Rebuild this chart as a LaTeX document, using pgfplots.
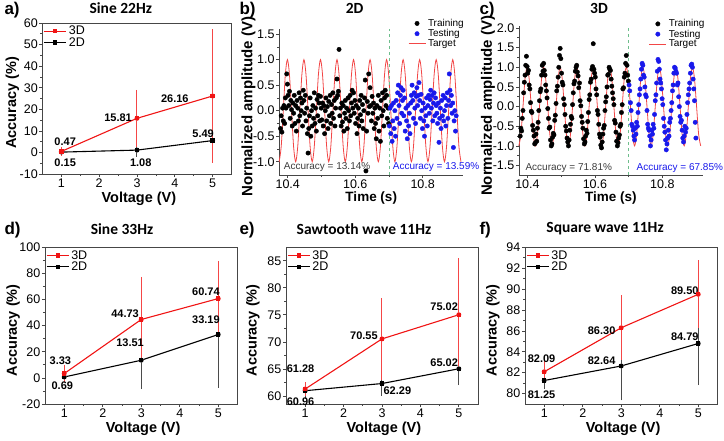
\documentclass[border=0pt]{standalone}
\usepackage{pgfplots}
\usepackage{pgfplotstable}
\pgfplotsset{compat=1.18}
\usepackage{fontspec}
\setmainfont{Liberation Sans}
\newfontfamily\titlefont{Carlito}
\definecolor{red3d}{RGB}{240,20,20}
\definecolor{red3derr}{RGB}{245,70,70}
\definecolor{err2d}{RGB}{75,75,75}
\definecolor{axgray}{RGB}{70,70,70}
\definecolor{tblue}{RGB}{25,25,235}
\definecolor{tred}{RGB}{242,70,70}
\definecolor{dgreen}{RGB}{110,190,140}
\definecolor{acctext}{RGB}{60,60,60}

\pgfplotstableread{
t y
10.3745 -1
10.3806 -0.707
10.3868 0
10.3929 0.707
10.3990 1
10.4051 0.707
10.4113 0
10.4174 -0.707
10.4235 -1
10.4296 -0.707
10.4358 0
10.4419 0.707
10.4480 1
10.4541 0.707
10.4603 0
10.4664 -0.707
10.4725 -1
10.4786 -0.707
10.4848 0
10.4909 0.707
10.4970 1
10.5031 0.707
10.5093 0
10.5154 -0.707
10.5215 -1
10.5276 -0.707
10.5338 0
10.5399 0.707
10.5460 1
10.5521 0.707
10.5583 0
10.5644 -0.707
10.5705 -1
10.5766 -0.707
10.5828 0
10.5889 0.707
10.5950 1
10.6011 0.707
10.6073 0
10.6134 -0.707
10.6195 -1
10.6256 -0.707
10.6318 0
10.6379 0.707
10.6440 1
10.6501 0.707
10.6563 0
10.6624 -0.707
10.6685 -1
10.6746 -0.707
10.6808 0
10.6869 0.707
10.6930 1
10.6991 0.707
10.7053 0
10.7114 -0.707
10.7175 -1
10.7236 -0.707
10.7298 0
10.7359 0.707
10.7420 1
10.7481 0.707
10.7543 0
10.7604 -0.707
10.7665 -1
10.7726 -0.707
10.7788 0
10.7849 0.707
10.7910 1
10.7971 0.707
10.8033 0
10.8094 -0.707
10.8155 -1
10.8216 -0.707
10.8278 0
10.8339 0.707
10.8400 1
10.8461 0.707
10.8523 0
10.8584 -0.707
10.8645 -1
10.8706 -0.707
10.8768 0
10.8829 0.707
10.8890 1
10.8951 0.707
10.9013 0
10.9074 -0.707
10.9135 -1
}\target

\pgfplotstableread{
t b c
10.3786 -0.35 -0.75
10.3806 -0.10 -0.55
10.3827 -0.42 -0.62
10.3847 0.05 -0.30
10.3868 -0.20 -0.10
10.3888 0.10 0.35
10.3908 -0.25 0.62
10.3929 0.25 0.80
10.3949 0.05 1.05
10.3970 0.72 1.28
10.3990 0.52 1.02
10.4010 0.30 0.85
10.4031 0.10 0.92
10.4051 0.38 0.55
10.4072 -0.15 0.45
10.4092 0.20 0.10
10.4113 0.02 -0.12
10.4133 -0.30 -0.15
10.4153 0.15 -0.48
10.4174 -0.05 -0.60
10.4194 0.30 -0.75
10.4215 -0.25 -0.95
10.4235 0.10 -0.92
10.4255 -0.40 -0.70
10.4276 0.20 -0.88
10.4296 0.05 -0.55
10.4317 -0.20 -0.40
10.4337 0.35 -0.10
10.4358 -0.10 0.15
10.4378 0.25 0.38
10.4398 0.00 0.45
10.4419 0.15 0.80
10.4439 -0.30 1.05
10.4460 0.40 0.90
10.4480 0.20 1.10
10.4500 -0.05 0.92
10.4521 0.30 0.80
10.4541 -0.20 0.55
10.4562 0.05 0.40
10.4582 -0.45 0.22
10.4603 -0.83 -0.05
10.4623 -0.35 -0.30
10.4643 -0.10 -0.55
10.4664 0.25 -0.52
10.4684 -0.50 -0.85
10.4705 0.00 -1.00
10.4725 -0.30 -0.95
10.4745 0.10 -0.78
10.4766 -0.15 -0.68
10.4786 0.35 -0.72
10.4807 -0.25 -0.35
10.4827 0.05 -0.22
10.4848 -0.40 0.08
10.4868 0.22 0.40
10.4888 -0.10 0.52
10.4909 0.30 0.75
10.4929 0.15 1.00
10.4950 -0.20 1.30
10.4970 0.28 1.48
10.4990 0.05 1.22
10.5011 -0.18 0.85
10.5031 0.15 0.62
10.5052 -0.30 0.55
10.5072 0.10 0.20
10.5093 -0.45 0.05
10.5113 0.00 -0.20
10.5133 0.25 -0.50
10.5154 -0.20 -0.62
10.5174 0.08 -0.80
10.5195 -0.35 -0.90
10.5215 0.18 -1.00
10.5235 -0.10 -0.85
10.5256 0.30 -0.60
10.5276 -0.25 -0.45
10.5297 0.12 -0.25
10.5317 -0.05 -0.30
10.5338 0.35 0.05
10.5358 -0.15 0.35
10.5378 0.20 0.58
10.5399 -0.30 0.65
10.5419 0.05 0.90
10.5440 0.25 1.00
10.5460 0.62 1.05
10.5480 0.30 0.88
10.5501 0.38 0.78
10.5521 1.20 0.48
10.5542 -0.10 0.60
10.5562 0.05 0.15
10.5583 -0.30 0.02
10.5603 0.15 -0.25
10.5623 -0.22 -0.40
10.5644 0.10 -0.55
10.5664 -0.40 -0.82
10.5685 -0.05 -0.95
10.5705 0.20 -0.90
10.5725 -0.15 -0.75
10.5746 0.05 -0.60
10.5766 -0.35 -0.68
10.5787 0.25 -0.38
10.5807 0.00 -0.15
10.5828 -0.20 0.18
10.5848 0.30 0.30
10.5868 -0.10 0.62
10.5889 0.15 0.70
10.5909 0.40 0.95
10.5930 0.05 1.02
10.5950 0.35 1.60
10.5970 -0.05 0.95
10.5991 0.20 0.85
10.6011 -0.25 0.75
10.6032 0.10 0.45
10.6052 -0.45 0.30
10.6073 -0.15 -0.10
10.6093 0.05 -0.20
10.6113 -0.30 -0.45
10.6134 0.20 -0.70
10.6154 -0.08 -0.78
10.6175 0.30 -0.98
10.6195 -0.20 -1.05
10.6215 0.12 -0.90
10.6236 -0.35 -0.70
10.6256 0.00 -0.55
10.6277 0.25 -0.48
10.6297 0.60 -0.10
10.6318 -1.18 0.12
10.6338 -0.40 0.25
10.6358 0.18 0.50
10.6379 -0.05 0.80
10.6399 0.72 0.82
10.6420 0.08 1.00
10.6440 0.45 0.95
10.6460 0.10 0.92
10.6481 -0.20 0.70
10.6501 0.28 0.52
10.6522 -0.05 0.35
10.6542 0.15 0.20
10.6563 -0.35 0.05
10.6583 0.05 -0.35
10.6603 -0.25 -0.42
10.6624 -0.55 -0.65
10.6644 0.10 -0.88
10.6665 -0.15 -1.00
10.6685 0.30 -0.92
10.6705 -0.40 -0.80
10.6726 0.05 -0.72
10.6746 -0.60 -0.50
10.6767 0.20 -0.45
10.6787 -0.10 -0.15
10.6808 0.35 0.05
10.6828 0.00 0.45
10.6848 -0.30 0.48
10.6869 0.25 0.75
10.6889 0.40 0.85
10.6910 0.10 1.10
10.6930 0.30 1.30
10.6950 -0.15 1.05
10.6971 0.05 0.80
10.6991 -0.25 0.65
}\train

\pgfplotstableread{
t b c
10.7012 -0.30 0.55
10.7032 0.05 0.40
10.7053 -0.45 0.10
10.7073 0.10 -0.10
10.7093 -0.60 -0.45
10.7114 -0.20 -0.50
10.7134 0.15 -0.60
10.7155 -0.35 -0.75
10.7175 0.00 -0.85
10.7195 -0.50 -0.55
10.7216 0.20 -0.70
10.7236 -0.15 -0.40
10.7257 0.35 -0.50
10.7277 0.50 -0.15
10.7298 0.10 0.05
10.7318 -0.25 0.30
10.7338 0.30 0.45
10.7359 0.45 0.70
10.7379 -0.05 0.95
10.7400 0.20 1.10
10.7420 0.40 1.05
10.7440 -0.10 0.80
10.7461 0.25 0.75
10.7481 -0.40 0.50
10.7502 0.05 0.30
10.7522 -0.20 0.25
10.7543 -0.55 -0.10
10.7563 0.10 -0.45
10.7583 -0.30 -0.55
10.7604 -0.05 -0.60
10.7624 -0.45 -0.75
10.7645 0.15 -1.00
10.7665 0.30 -0.85
10.7685 0.50 -0.60
10.7706 0.20 -0.70
10.7726 -0.15 -0.45
10.7747 0.35 -0.55
10.7767 0.05 -0.20
10.7788 -0.25 0.15
10.7808 0.28 0.30
10.7828 0.45 0.60
10.7849 0.10 0.90
10.7869 0.30 1.20
10.7890 0.55 1.15
10.7910 0.20 0.95
10.7930 -0.15 0.70
10.7951 0.32 0.60
10.7971 0.00 0.45
10.7992 -0.35 0.20
10.8012 0.15 0.05
10.8033 -0.20 -0.30
10.8053 -0.50 -0.50
10.8073 0.05 -0.65
10.8094 -0.10 -0.85
10.8114 0.25 -1.10
10.8135 -0.30 -0.95
10.8155 0.10 -0.80
10.8175 0.30 -0.60
10.8196 -0.05 -0.75
10.8216 0.22 -0.40
10.8237 0.40 -0.30
10.8257 0.05 -0.10
10.8278 0.30 0.10
10.8298 -0.20 0.40
10.8318 0.15 0.55
10.8339 0.35 0.85
10.8359 -0.10 1.00
10.8380 0.25 0.98
10.8400 0.10 0.90
10.8420 -0.05 0.85
10.8441 -0.25 0.55
10.8461 0.15 0.60
10.8482 -0.62 0.25
10.8502 -0.15 0.00
10.8523 0.05 -0.25
10.8543 -0.35 -0.40
10.8563 0.20 -0.35
10.8584 -0.10 -0.60
10.8604 0.30 -0.80
10.8625 -0.20 -0.90
10.8645 0.00 -0.75
10.8665 0.25 -0.50
10.8686 -0.30 -0.65
10.8706 0.10 -0.55
10.8727 0.35 -0.20
10.8747 -0.15 0.10
10.8768 0.20 0.30
10.8788 0.72 0.45
10.8808 0.40 0.60
10.8829 0.10 0.85
10.8849 0.30 1.05
10.8870 -0.05 1.08
10.8890 0.15 1.00
10.8910 -0.72 0.70
10.8931 -0.20 0.45
10.8951 0.00 0.15
10.8972 -0.40 -0.40
10.8992 -0.10 -0.80
}\test

\tikzset{
  ann/.style={font=\fontsize{11}{12}\selectfont\bfseries},
  acct/.style={anchor=west, font=\fontsize{10}{12}\selectfont},
  plab/.style={anchor=west, font=\fontsize{17}{19}\selectfont\bfseries},
}
\pgfplotsset{
  common/.style={
    scale only axis,
    tick align=outside,
    minor x tick num=1, minor y tick num=1,
    axis line style={draw=axgray, line width=0.7pt},
    every tick/.style={axgray, line width=0.7pt},
    major tick length=3pt, minor tick length=2pt,
    tick label style={font=\fontsize{12.5}{14}\selectfont},
    xticklabel style={inner sep=1.5pt},
    yticklabel style={inner sep=1.5pt},
    title style={font=\titlefont\bfseries\fontsize{15.5}{17}\selectfont, anchor=center},
    xlabel style={anchor=center},
    ylabel style={anchor=center},
    clip=false,
  },
  acc/.style={
    common,
    xmin=0.5, xmax=5.5, xtick={1,2,3,4,5}, xticklabels={1,2,3,4,5},
    tick pos=left,
    xlabel={Voltage (V)}, ylabel={Accuracy (\%)},
    label style={font=\fontsize{14.5}{16}\selectfont\bfseries},
    legend style={at={(0,1)}, anchor=north west, draw=none, fill=none,
      font=\fontsize{12.5}{14}\selectfont, row sep=-3pt, inner sep=1pt},
    legend cell align=left,
    legend image code/.code={\draw[mark repeat=2,mark phase=2,##1] plot coordinates {(0pt,0pt) (11pt,0pt) (22pt,0pt)};},
  },
  tp/.style={
    common,
    axis lines*=left,
    xmin=10.375, xmax=10.92, xtick={10.4,10.6,10.8}, xticklabels={10.4,10.6,10.8},
    xlabel={Time (s)}, ylabel={Normalized amplitude (V)},
    xlabel style={font=\fontsize{13.5}{15}\selectfont\bfseries},
    ylabel style={font=\fontsize{15}{17}\selectfont\bfseries},
    legend style={draw=none, fill=none, font=\fontsize{10}{11}\selectfont, row sep=-2.5pt, inner sep=1pt},
    legend cell align=left,
  },
  s3d/.style={red3d, line width=1.1pt, mark=square*, mark size=1.6pt},
  s2d/.style={black, line width=1.1pt, mark=square*, mark size=1.6pt},
  e3d/.style={forget plot, color=red3derr, draw=red3derr, line width=1pt, only marks, mark=none,
    error bars/.cd, y dir=both, y explicit,
    error bar style={draw=red3derr, line width=1pt},
    error mark options={draw=red3derr, line width=1pt, mark size=3pt}},
  e2d/.style={forget plot, color=err2d, draw=err2d, line width=1pt, only marks, mark=none,
    error bars/.cd, y dir=both, y explicit,
    error bar style={draw=err2d, line width=1pt},
    error mark options={draw=err2d, line width=1pt, mark size=3pt}},
  ptr/.style={only marks, mark=*, mark size=2.2pt, black},
  pte/.style={only marks, mark=*, mark size=2.2pt, tblue},
}

\begin{document}
\begin{tikzpicture}
\useasboundingbox (0pt,0pt) rectangle (724pt,-440pt);

% panel labels
\node[plab] at (1pt,-10pt) {a)};
\node[plab] at (236pt,-10pt) {b)};
\node[plab] at (476pt,-10pt) {c)};
\node[plab] at (1pt,-230pt) {d)};
\node[plab] at (236pt,-230pt) {e)};
\node[plab] at (476pt,-230pt) {f)};

% ---------------- a ----------------
\begin{axis}[acc, at={(42.5pt,-23pt)}, anchor=north west, width=189pt, height=151pt,
  ymin=-10, ymax=60, ytick={-10,0,10,20,30,40,50,60}, yticklabels={-10,0,10,20,30,40,50,60},
  ylabel style={at={(axis description cs:-0.16,0.47)}},
  xlabel style={at={(axis description cs:0.51,-0.165)}},
  title={Sine 22Hz}, title style={at={(axis description cs:0.414,1.06)}}]
\addlegendimage{s3d}\addlegendentry{3D}
\addlegendimage{s2d}\addlegendentry{2D}
\addplot[e2d] coordinates {(1,0.15) +- (0,0.4) (3,1.08) +- (0,1.6) (5,5.49) +- (0,6)};
\addplot[e3d] coordinates {(1,0.47) +- (0,0.6) (3,15.81) +- (0,11.8) (5,26.16) +- (0,29.5)};
\addplot[s2d, forget plot] coordinates {(1,0.15) (3,1.08) (5,5.49)};
\addplot[s3d, forget plot] coordinates {(1,0.47) (3,15.81) (5,26.16)};
\node[ann] at (axis cs:1.1,5.0) {0.47};
\node[ann] at (axis cs:1.1,-4.9) {0.15};
\node[ann] at (axis cs:2.5,16.2) {15.81};
\node[ann] at (axis cs:3.1,-4.9) {1.08};
\node[ann] at (axis cs:4.0,24.9) {26.16};
\node[ann] at (axis cs:4.75,8.6) {5.49};
\end{axis}

% ---------------- b ----------------
\begin{axis}[tp, at={(279.3pt,-29pt)}, anchor=north west, width=183.9pt, height=146pt,
  ymin=-1.26, ymax=1.6, ytick={-1,-0.5,0,0.5,1,1.5}, yticklabels={-1.0,-0.5,0.0,0.5,1.0,1.5},
  ylabel style={at={(axis description cs:-0.168,0.469)}},
  xlabel style={at={(axis description cs:0.5,-0.158)}},
  title={2D}, title style={at={(axis description cs:0.41,1.1)}},
  legend style={at={(axis description cs:0.694,1.09)}, anchor=north west}]
\addlegendimage{ptr}\addlegendentry{Training}
\addlegendimage{pte}\addlegendentry{Testing}
\addlegendimage{tred, line width=0.8pt}\addlegendentry{Target}
\addplot[tred, line width=0.8pt, smooth, forget plot] table[x=t,y=y] {\target};
\addplot[dgreen, dashed, line width=0.9pt, forget plot] coordinates {(10.7,-1.26) (10.7,1.6)};
\addplot[ptr, forget plot] table[x=t,y=b] {\train};
\addplot[pte, forget plot] table[x=t,y=b] {\test};
\node[acct, text=acctext] at (axis cs:10.378,-1.1) {Accuracy = 13.14\%};
\node[acct, text=tblue] at (axis cs:10.701,-1.1) {Accuracy = 13.59\%};
\end{axis}

% ---------------- c ----------------
\begin{axis}[tp, at={(519pt,-26pt)}, anchor=north west, width=183.9pt, height=149pt,
  ymin=-1.74, ymax=2.05, ytick={-1.5,-1,-0.5,0,0.5,1,1.5,2}, yticklabels={-1.5,-1.0,-0.5,0.0,0.5,1.0,1.5,2.0},
  ylabel style={at={(axis description cs:-0.168,0.464)}},
  xlabel style={at={(axis description cs:0.5,-0.154)}},
  title={3D}, title style={at={(axis description cs:0.435,1.08)}},
  legend style={at={(axis description cs:0.70,1.065)}, anchor=north west}]
\addlegendimage{ptr}\addlegendentry{Training}
\addlegendimage{pte}\addlegendentry{Testing}
\addlegendimage{tred, line width=0.8pt}\addlegendentry{Target}
\addplot[tred, line width=0.8pt, smooth, forget plot] table[x=t,y=y] {\target};
\addplot[dgreen, dashed, line width=0.9pt, forget plot] coordinates {(10.7,-1.74) (10.7,2.05)};
\addplot[ptr, forget plot] table[x=t,y=c] {\train};
\addplot[pte, forget plot] table[x=t,y=c] {\test};
\node[acct, text=acctext] at (axis cs:10.384,-1.57) {Accuracy = 71.81\%};
\node[acct, text=tblue] at (axis cs:10.713,-1.57) {Accuracy = 67.85\%};
\end{axis}

% ---------------- d ----------------
\begin{axis}[acc, at={(45pt,-247.3pt)}, anchor=north west, width=192.5pt, height=156.7pt,
  ymin=-20, ymax=100, ytick={-20,0,20,40,60,80,100}, yticklabels={-20,0,20,40,60,80,100},
  ylabel style={at={(axis description cs:-0.166,0.47)}},
  xlabel style={at={(axis description cs:0.51,-0.158)}},
  title={Sine 33Hz}, title style={at={(axis description cs:0.40,1.078)}}]
\addlegendimage{s3d}\addlegendentry{3D}
\addlegendimage{s2d}\addlegendentry{2D}
\addplot[e2d] coordinates {(1,0.69) +- (0,1.5) (3,13.51) +- (0,19.8) (5,33.19) +- (0,38.5)};
\addplot[e3d] coordinates {(1,3.33) +- (0,4) (3,44.73) +- (0,30.4) (5,60.74) +- (0,26.5)};
\addplot[s2d, forget plot] coordinates {(1,0.69) (3,13.51) (5,33.19)};
\addplot[s3d, forget plot] coordinates {(1,3.33) (3,44.73) (5,60.74)};
\node[ann] at (axis cs:0.9,13.2) {3.33};
\node[ann] at (axis cs:0.95,-6) {0.69};
\node[ann] at (axis cs:2.58,48.9) {44.73};
\node[ann] at (axis cs:2.71,27.2) {13.51};
\node[ann] at (axis cs:4.68,65.8) {60.74};
\node[ann] at (axis cs:4.68,44.3) {33.19};
\end{axis}

% ---------------- e ----------------
\begin{axis}[acc, at={(286pt,-247.3pt)}, anchor=north west, width=192pt, height=156.7pt,
  ymin=58.5, ymax=87.5, ytick={60,65,70,75,80,85}, yticklabels={60,65,70,75,80,85},
  ylabel style={at={(axis description cs:-0.172,0.47)}},
  xlabel style={at={(axis description cs:0.51,-0.158)}},
  title={Sawtooth wave 11Hz}, title style={at={(axis description cs:0.406,1.078)}}]
\addlegendimage{s3d}\addlegendentry{3D}
\addlegendimage{s2d}\addlegendentry{2D}
\addplot[e2d] coordinates {(1,60.96) +- (0,0.9) (3,62.29) +- (0,1.75) (5,65.02) +- (0,2.45)};
\addplot[e3d] coordinates {(1,61.28) +- (0,0.7) (3,70.55) +- (0,7) (5,75.02) +- (0,9.9)};
\addplot[s2d, forget plot] coordinates {(1,60.96) (3,62.29) (5,65.02)};
\addplot[s3d, forget plot] coordinates {(1,61.28) (3,70.55) (5,75.02)};
\node[ann] at (axis cs:0.88,65.1) {61.28};
\node[ann] at (axis cs:0.88,59.0) {60.96};
\node[ann] at (axis cs:2.53,71.1) {70.55};
\node[ann] at (axis cs:3.4,61.0) {62.29};
\node[ann] at (axis cs:4.62,76.5) {75.02};
\node[ann] at (axis cs:4.62,66.2) {65.02};
\end{axis}

% ---------------- f ----------------
\begin{axis}[acc, at={(525pt,-247.3pt)}, anchor=north west, width=192.5pt, height=156.7pt,
  ymin=79, ymax=94, ytick={80,82,84,86,88,90,92,94}, yticklabels={80,82,84,86,88,90,92,94},
  ylabel style={at={(axis description cs:-0.167,0.47)}},
  xlabel style={at={(axis description cs:0.51,-0.158)}},
  title={Square wave 11Hz}, title style={at={(axis description cs:0.416,1.078)}}]
\addlegendimage{s3d}\addlegendentry{3D}
\addlegendimage{s2d}\addlegendentry{2D}
\addplot[e2d] coordinates {(1,81.25) +- (0,0.5) (3,82.64) +- (0,3.0) (5,84.79) +- (0,3.7)};
\addplot[e3d] coordinates {(1,82.09) +- (0,0.7) (3,86.30) +- (0,2.8) (5,89.50) +- (0,2.95)};
\addplot[s2d, forget plot] coordinates {(1,81.25) (3,82.64) (5,84.79)};
\addplot[s3d, forget plot] coordinates {(1,82.09) (3,86.30) (5,89.50)};
\node[ann] at (axis cs:0.93,83.3) {82.09};
\node[ann] at (axis cs:0.93,79.9) {81.25};
\node[ann] at (axis cs:2.49,86.0) {86.30};
\node[ann] at (axis cs:2.49,83.1) {82.64};
\node[ann] at (axis cs:4.65,89.85) {89.50};
\node[ann] at (axis cs:4.65,85.4) {84.79};
\end{axis}
\end{tikzpicture}
\end{document}
